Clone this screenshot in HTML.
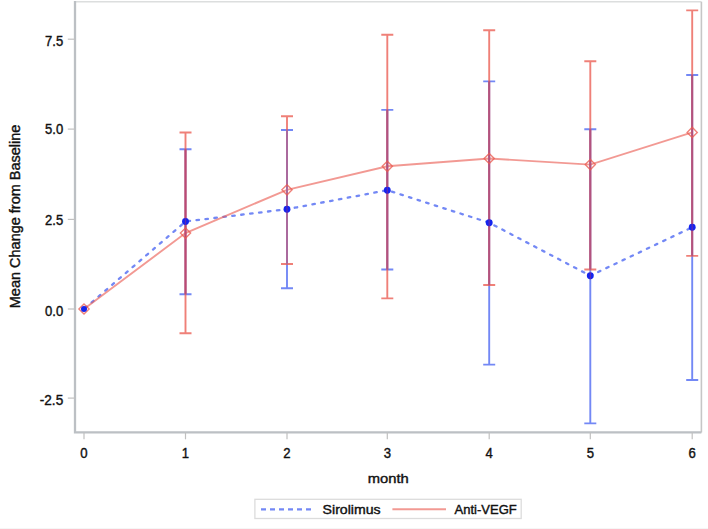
<!DOCTYPE html>
<html><head><meta charset="utf-8"><style>
html,body{margin:0;padding:0;background:#fff;}
body{width:708px;height:529px;overflow:hidden;}
svg{display:block;}
text{font-family:"Liberation Sans",sans-serif;fill:#111;stroke:#111;stroke-width:0.35px;}
.t{font-size:14.2px;stroke-width:0.4px;}
.l{font-size:13.6px;stroke-width:0.4px;}
.g{font-size:13px;stroke-width:0.4px;}
</style></head><body>
<svg width="708" height="529" viewBox="0 0 708 529">
<path d="M75 1.7H701.4" stroke="#dcdede" stroke-width="1.5"/>
<path d="M701.4 1.7V432.4" stroke="#c6c6c6" stroke-width="1.6"/>
<path d="M75 1V432.4H701.4" stroke="#bcc0c4" stroke-width="2.3" fill="none"/>
<line x1="67.8" y1="39.2" x2="75" y2="39.2" stroke="#c0c0c0" stroke-width="1.2"/>
<text x="63.2" y="45.55" text-anchor="end" class="t" textLength="18.1" lengthAdjust="spacingAndGlyphs">7.5</text>
<line x1="67.8" y1="129.1" x2="75" y2="129.1" stroke="#c0c0c0" stroke-width="1.2"/>
<text x="63.2" y="134.45" text-anchor="end" class="t" textLength="18.1" lengthAdjust="spacingAndGlyphs">5.0</text>
<line x1="67.8" y1="219.4" x2="75" y2="219.4" stroke="#c0c0c0" stroke-width="1.2"/>
<text x="63.2" y="225.15" text-anchor="end" class="t" textLength="18.1" lengthAdjust="spacingAndGlyphs">2.5</text>
<line x1="67.8" y1="309" x2="75" y2="309" stroke="#c0c0c0" stroke-width="1.2"/>
<text x="63.2" y="315.55" text-anchor="end" class="t" textLength="18.1" lengthAdjust="spacingAndGlyphs">0.0</text>
<line x1="67.8" y1="398.1" x2="75" y2="398.1" stroke="#c0c0c0" stroke-width="1.2"/>
<text x="63.2" y="404.6" text-anchor="end" class="t" textLength="23.4" lengthAdjust="spacingAndGlyphs">-2.5</text>
<line x1="84" y1="432.4" x2="84" y2="439.3" stroke="#c0c0c0" stroke-width="1.2"/>
<text x="84" y="457.7" text-anchor="middle" class="t" textLength="7.3" lengthAdjust="spacingAndGlyphs">0</text>
<line x1="185.5" y1="432.4" x2="185.5" y2="439.3" stroke="#c0c0c0" stroke-width="1.2"/>
<text x="185.5" y="457.7" text-anchor="middle" class="t" textLength="7.3" lengthAdjust="spacingAndGlyphs">1</text>
<line x1="287" y1="432.4" x2="287" y2="439.3" stroke="#c0c0c0" stroke-width="1.2"/>
<text x="287" y="457.7" text-anchor="middle" class="t" textLength="7.3" lengthAdjust="spacingAndGlyphs">2</text>
<line x1="387.3" y1="432.4" x2="387.3" y2="439.3" stroke="#c0c0c0" stroke-width="1.2"/>
<text x="387.3" y="457.7" text-anchor="middle" class="t" textLength="7.3" lengthAdjust="spacingAndGlyphs">3</text>
<line x1="489.2" y1="432.4" x2="489.2" y2="439.3" stroke="#c0c0c0" stroke-width="1.2"/>
<text x="489.2" y="457.7" text-anchor="middle" class="t" textLength="7.3" lengthAdjust="spacingAndGlyphs">4</text>
<line x1="590.3" y1="432.4" x2="590.3" y2="439.3" stroke="#c0c0c0" stroke-width="1.2"/>
<text x="590.3" y="457.7" text-anchor="middle" class="t" textLength="7.3" lengthAdjust="spacingAndGlyphs">5</text>
<line x1="692.2" y1="432.4" x2="692.2" y2="439.3" stroke="#c0c0c0" stroke-width="1.2"/>
<text x="692.2" y="457.7" text-anchor="middle" class="t" textLength="7.3" lengthAdjust="spacingAndGlyphs">6</text>
<text x="388.2" y="483.4" text-anchor="middle" class="l" textLength="41" lengthAdjust="spacingAndGlyphs">month</text>
<text transform="translate(20.4,216.4) rotate(-90)" x="0" y="0" text-anchor="middle" class="l" style="font-size:14.2px" textLength="183.6" lengthAdjust="spacingAndGlyphs">Mean Change from Baseline</text>
<polyline points="84,309 185.5,221.5 287,209.2 387.3,190.2 489.2,222.7 590.3,275.7 692.2,227.3" fill="none" stroke="#3050f0" stroke-opacity="0.68" stroke-width="2.3" stroke-linecap="round" stroke-dasharray="2.5 6.5" stroke-dashoffset="-1.1"/>
<path d="M185.5 149.2V294.2M179.5 149.2H191.5M179.5 294.2H191.5" stroke="#3050f0" stroke-opacity="0.68" stroke-width="1.9" fill="none"/>
<path d="M287 130V288.3M281 130H293M281 288.3H293" stroke="#3050f0" stroke-opacity="0.68" stroke-width="1.9" fill="none"/>
<path d="M387.3 109.9V269.5M381.3 109.9H393.3M381.3 269.5H393.3" stroke="#3050f0" stroke-opacity="0.68" stroke-width="1.9" fill="none"/>
<path d="M489.2 81.4V364.6M483.2 81.4H495.2M483.2 364.6H495.2" stroke="#3050f0" stroke-opacity="0.68" stroke-width="1.9" fill="none"/>
<path d="M590.3 129.2V423.4M584.3 129.2H596.3M584.3 423.4H596.3" stroke="#3050f0" stroke-opacity="0.68" stroke-width="1.9" fill="none"/>
<path d="M692.2 75V380M686.2 75H698.2M686.2 380H698.2" stroke="#3050f0" stroke-opacity="0.68" stroke-width="1.9" fill="none"/>
<polyline points="84,309 185.5,233.1 287,189.8 387.3,166.3 489.2,158.5 590.3,164.6 692.2,132.4" fill="none" stroke="#ea5a50" stroke-opacity="0.62" stroke-width="1.9"/>
<path d="M185.5 132.5V333.3M179.5 132.5H191.5M179.5 333.3H191.5" stroke="#ea5a50" stroke-opacity="0.77" stroke-width="1.9" fill="none"/>
<path d="M185.5 149.2V294.2" stroke="#bc4a72" stroke-width="1.9"/>
<path d="M287 116.3V264M281 116.3H293M281 264H293" stroke="#ea5a50" stroke-opacity="0.77" stroke-width="1.9" fill="none"/>
<path d="M287 130V264" stroke="#a86aa0" stroke-width="1.9"/>
<path d="M387.3 34.7V298.4M381.3 34.7H393.3M381.3 298.4H393.3" stroke="#ea5a50" stroke-opacity="0.77" stroke-width="1.9" fill="none"/>
<path d="M387.3 109.9V269.5" stroke="#b2527e" stroke-width="1.9"/>
<path d="M489.2 30.2V285M483.2 30.2H495.2M483.2 285H495.2" stroke="#ea5a50" stroke-opacity="0.77" stroke-width="1.9" fill="none"/>
<path d="M489.2 81.4V285" stroke="#b2527e" stroke-width="1.9"/>
<path d="M590.3 61.2V269.5M584.3 61.2H596.3M584.3 269.5H596.3" stroke="#ea5a50" stroke-opacity="0.77" stroke-width="1.9" fill="none"/>
<path d="M590.3 129.2V269.5" stroke="#b2527e" stroke-width="1.9"/>
<path d="M692.2 10.4V255.9M686.2 10.4H698.2M686.2 255.9H698.2" stroke="#ea5a50" stroke-opacity="0.77" stroke-width="1.9" fill="none"/>
<path d="M692.2 75V255.9" stroke="#b2527e" stroke-width="1.9"/>
<path d="M84 303.9L89.1 309L84 314.1L78.9 309Z" fill="none" stroke="#ea5a50" stroke-opacity="0.77" stroke-width="1.4"/>
<path d="M185.5 228L190.6 233.1L185.5 238.2L180.4 233.1Z" fill="none" stroke="#ea5a50" stroke-opacity="0.77" stroke-width="1.4"/>
<path d="M287 184.7L292.1 189.8L287 194.9L281.9 189.8Z" fill="none" stroke="#ea5a50" stroke-opacity="0.77" stroke-width="1.4"/>
<path d="M387.3 161.2L392.4 166.3L387.3 171.4L382.2 166.3Z" fill="none" stroke="#ea5a50" stroke-opacity="0.77" stroke-width="1.4"/>
<path d="M489.2 153.4L494.3 158.5L489.2 163.6L484.1 158.5Z" fill="none" stroke="#ea5a50" stroke-opacity="0.77" stroke-width="1.4"/>
<path d="M590.3 159.5L595.4 164.6L590.3 169.7L585.2 164.6Z" fill="none" stroke="#ea5a50" stroke-opacity="0.77" stroke-width="1.4"/>
<path d="M692.2 127.3L697.3 132.4L692.2 137.5L687.1 132.4Z" fill="none" stroke="#ea5a50" stroke-opacity="0.77" stroke-width="1.4"/>
<circle cx="84" cy="309" r="3.0" fill="#1424ee"/>
<circle cx="185.5" cy="221.5" r="3.45" fill="#1424ee"/>
<path d="M185.5 217.9V225.1" stroke="#c03060" stroke-width="1.3" stroke-opacity="0.4"/>
<circle cx="287" cy="209.2" r="3.45" fill="#1424ee"/>
<path d="M287 205.6V212.8" stroke="#c03060" stroke-width="1.3" stroke-opacity="0.4"/>
<circle cx="387.3" cy="190.2" r="3.45" fill="#1424ee"/>
<path d="M387.3 186.6V193.8" stroke="#c03060" stroke-width="1.3" stroke-opacity="0.4"/>
<circle cx="489.2" cy="222.7" r="3.45" fill="#1424ee"/>
<path d="M489.2 219.1V226.3" stroke="#c03060" stroke-width="1.3" stroke-opacity="0.4"/>
<circle cx="590.3" cy="275.7" r="3.45" fill="#1424ee"/>
<path d="M590.3 272.1V279.3" stroke="#c03060" stroke-width="1.3" stroke-opacity="0.4"/>
<circle cx="692.2" cy="227.3" r="3.45" fill="#1424ee"/>
<path d="M692.2 223.7V230.9" stroke="#c03060" stroke-width="1.3" stroke-opacity="0.4"/>
<path d="M0 528.5H708" stroke="#f6f6f6" stroke-width="1"/>
<rect x="254.9" y="499.3" width="266.3" height="19.2" fill="#fff" stroke="#dcdcdc" stroke-width="1.3"/>
<line x1="261" y1="509.4" x2="312" y2="509.4" stroke="#3050f0" stroke-opacity="0.68" stroke-width="2.2" stroke-dasharray="5 4"/>
<text x="322.6" y="514.1" class="g" textLength="58" lengthAdjust="spacingAndGlyphs">Sirolimus</text>
<line x1="392.4" y1="509.2" x2="446" y2="509.2" stroke="#ea5a50" stroke-opacity="0.62" stroke-width="1.9"/>
<text x="454.6" y="514.1" class="g">Anti-VEGF</text>
</svg>
</body></html>
